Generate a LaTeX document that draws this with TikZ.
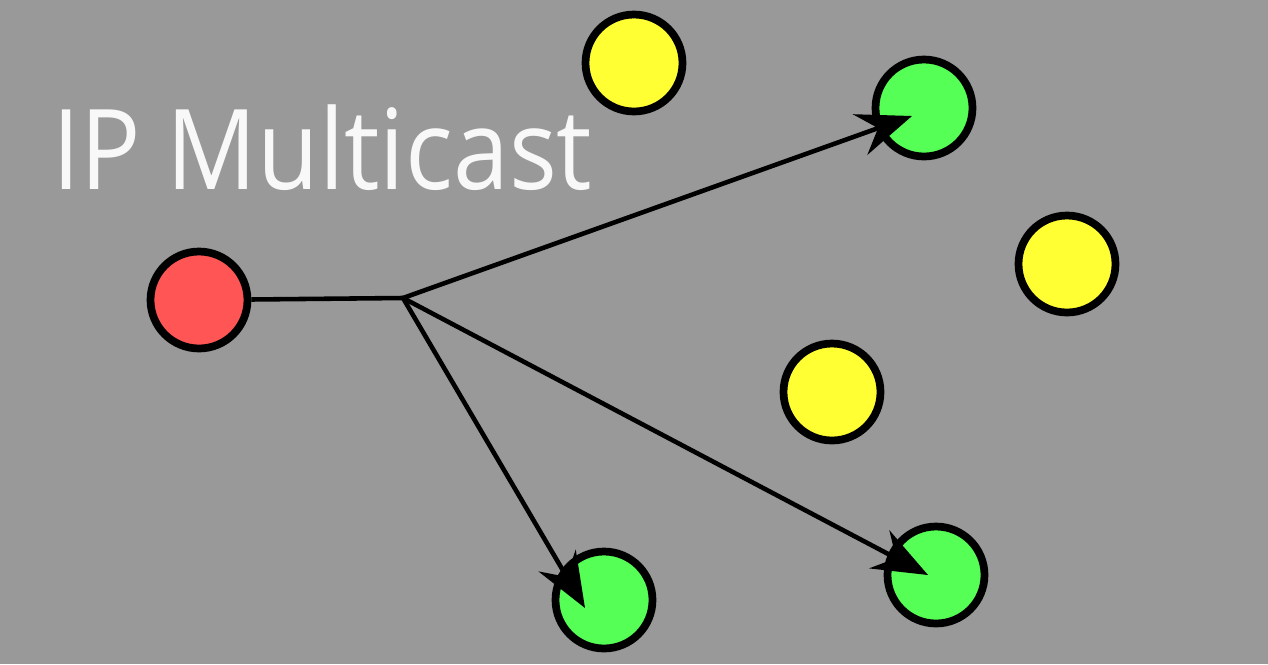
\documentclass[tikz,border=0pt]{standalone}
\usepackage{fontspec}
\setmainfont{Open Sans}
\newfontfamily\titlefont[FakeStretch=0.9]{Open Sans}
\usetikzlibrary{arrows.meta}
\definecolor{bggray}{RGB}{153,153,153}
\definecolor{senderred}{RGB}{255,85,85}
\definecolor{membergreen}{RGB}{85,255,85}
\definecolor{hostyellow}{RGB}{255,255,51}
\definecolor{titlewhite}{RGB}{248,248,248}
\tikzset{
	host/.style={circle, draw=black, line width=4.4pt, minimum size=1.94cm, inner sep=0pt},
	link/.style={line width=2.6pt, draw=black},
	cast/.style={link, -{Stealth[length=1.1cm, width=0.86cm, inset=0.38cm]}}
}

\begin{document}
\begin{tikzpicture}[x=0.02cm, y=-0.02cm]
		%%%%% START %%%%%
		
		\fill[bggray] (0, 0) rectangle (1268, 664);
		\useasboundingbox (0, 0) rectangle (1268, 664);
		
		\node[anchor=base west, inner sep=0pt, text=titlewhite, font=\titlefont\fontsize{63.5}{63.5}\selectfont] (title) at (52, 189) {IP Multicast};
		
		\node[host, fill=senderred] (sender) at (199, 300) {};
		
		\node[host, fill=hostyellow] (idleA) at (634, 63) {};
		\node[host, fill=hostyellow] (idleB) at (1067, 264) {};
		\node[host, fill=hostyellow] (idleC) at (832, 392) {};
		
		\node[host, fill=membergreen] (memberA) at (924, 108) {};
		\node[host, fill=membergreen] (memberB) at (604, 600) {};
		\node[host, fill=membergreen] (memberC) at (936, 575) {};
		
		\coordinate (hub) at (403, 298);
		\coordinate (tipA) at (912, 116);
		\coordinate (tipB) at (585, 608);
		\coordinate (tipC) at (928, 575);
		
		\draw[link] (sender) -- (hub);
		\draw[cast] (hub) -- (tipA);
		\draw[cast] (hub) -- (tipB);
		\draw[cast] (hub) -- (tipC);
		
		%%%%% END %%%%%
	\end{tikzpicture}
\end{document}
